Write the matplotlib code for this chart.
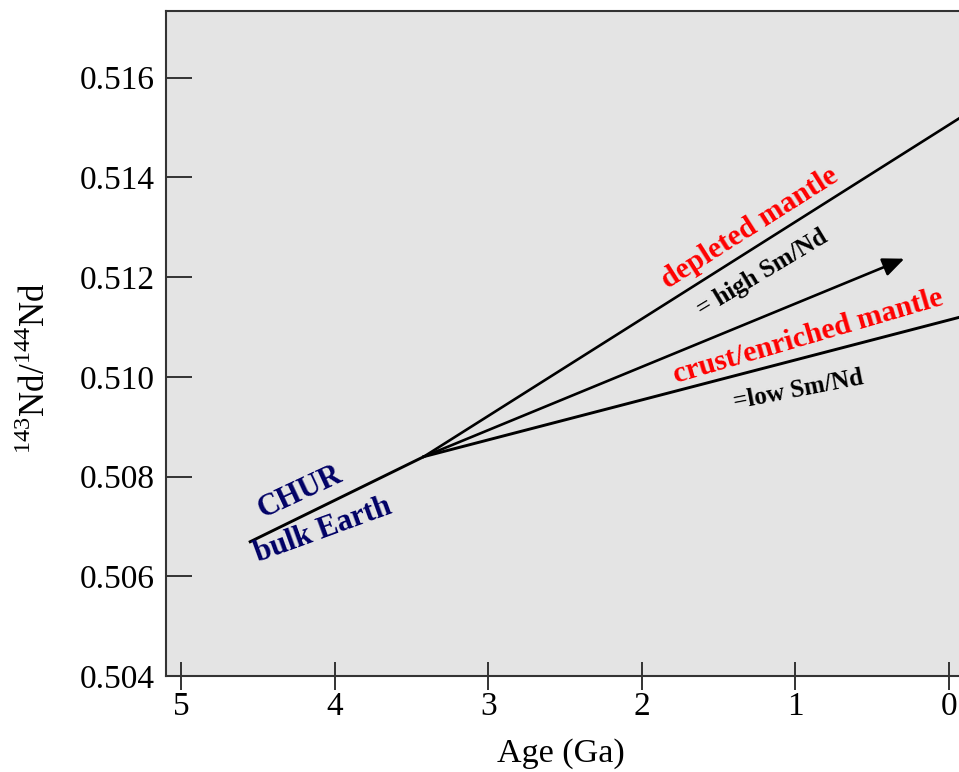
import matplotlib
matplotlib.use("Agg")
import matplotlib.pyplot as plt

plt.rcParams["font.family"] = ["Liberation Serif", "DejaVu Serif"]
plt.rcParams["mathtext.fontset"] = "custom"
plt.rcParams["mathtext.rm"] = "Liberation Serif"

# ---- evolution lines (age in Ga, 143Nd/144Nd) ----
chur_age = [4.56, 3.42]
chur_ratio = [0.50668, 0.50840]

depleted_age = [3.42, -0.10]
depleted_ratio = [0.50840, 0.51525]

crust_age = [3.42, -0.10]
crust_ratio = [0.50840, 0.51122]

arrow_age = [3.42, 0.29]
arrow_ratio = [0.50840, 0.51237]

x_ticks = [5, 4, 3, 2, 1, 0]
y_ticks = [0.504, 0.506, 0.508, 0.510, 0.512, 0.514, 0.516]

RED = "#ff0000"
NAVY = "#000066"

fig = plt.figure(figsize=(9.59, 7.72), dpi=100)
ax = fig.add_axes([0.1731, 0.1244, 0.8484, 0.8608])
ax.set_facecolor("#e4e4e4")

ax.plot(chur_age, chur_ratio, color="k", lw=2.1, solid_capstyle="butt")
ax.plot(depleted_age, depleted_ratio, color="k", lw=1.9)
ax.plot(crust_age, crust_ratio, color="k", lw=2.1)
ax.annotate("", xy=(arrow_age[1], arrow_ratio[1]), xytext=(arrow_age[0], arrow_ratio[0]),
            arrowprops=dict(arrowstyle="-|>,head_length=0.65,head_width=0.28",
                            color="k", lw=1.9, shrinkA=0, shrinkB=0,
                            mutation_scale=20))

ax.set_xlim(5.1, -0.2)
ax.set_ylim(0.504, 0.51733)
ax.set_xticks(x_ticks)
ax.set_xticklabels([str(v) for v in x_ticks])
ax.set_yticks(y_ticks)
ax.set_yticklabels([f"{v:.3f}" for v in y_ticks])

ax.tick_params(axis="y", direction="in", length=18.5, width=1.4, color="#333333",
               labelsize=24, pad=8)
ax.tick_params(axis="x", direction="inout", length=20, width=1.4, color="#333333",
               labelsize=24, pad=1)
for side in ["left", "bottom", "top"]:
    ax.spines[side].set_color("#333333")
    ax.spines[side].set_linewidth(1.5)
ax.spines["right"].set_visible(False)

ax.set_xlabel("Age (Ga)", fontsize=24.5)
ax.xaxis.set_label_coords(0.485, -0.094)
ax.set_ylabel(r"$^{143}$Nd/$^{144}$Nd", fontsize=25)
ax.yaxis.set_label_coords(-0.139, 0.4635)

# ---- line labels ----
def label(x, y, s, color, size, rot):
    ax.text(x, y, s, color=color, fontsize=size, fontweight="bold",
            rotation=rot, rotation_mode="anchor", ha="center", va="center",
            transform=fig.transFigure)

W, H = 959, 772
label(300 / W, 1 - 492 / H, "CHUR", NAVY, 22, 25)
label(323 / W, 1 - 530 / H, "bulk Earth", NAVY, 22, 20)
label(750 / W, 1 - 228 / H, "depleted mantle", RED, 21.5, 32.4)
label(762 / W, 1 - 273 / H, "= high Sm/Nd", "k", 18, 31)
label(808 / W, 1 - 337 / H, "crust/enriched mantle", RED, 21.5, 16.3)
label(798 / W, 1 - 390 / H, "=low Sm/Nd", "k", 18, 11)

fig.savefig("out.png", dpi=100)
